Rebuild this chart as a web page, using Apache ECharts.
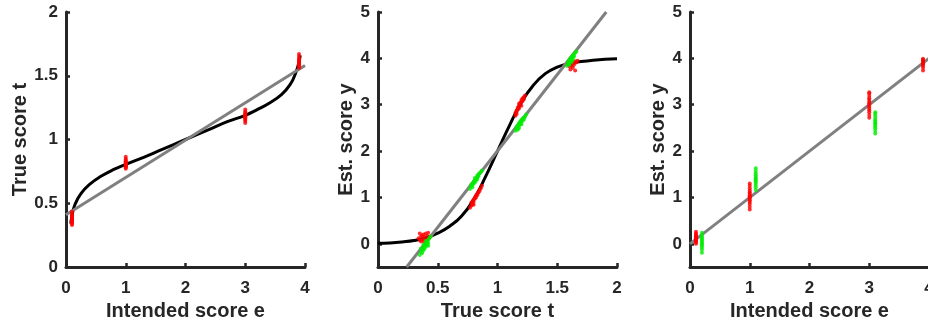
<!DOCTYPE html>
<html>
<head>
<meta charset="utf-8">
<script src="https://cdn.jsdelivr.net/npm/echarts@6/dist/echarts.min.js"></script>
<style>html,body{margin:0;padding:0;background:#fff}#c{width:928px;height:322px}</style>
</head>
<body>
<div id="c"></div>
<script>
// ---- Panel 1: Intended score e -> True score t
const p1CurveE = [0.08, 0.1, 0.15, 0.25, 0.4, 0.6, 0.8, 1.0, 1.3, 1.6, 2.0, 2.4, 2.7, 3.0, 3.2, 3.4, 3.6, 3.75, 3.85, 3.9, 3.92];
const p1CurveT = [0.34, 0.40, 0.49, 0.575, 0.65, 0.715, 0.765, 0.805, 0.86, 0.92, 1.0, 1.08, 1.14, 1.19, 1.235, 1.285, 1.35, 1.43, 1.53, 1.61, 1.66];
const p1LineE = [0, 4];
const p1LineT = [0.41, 1.58];
const p1RedE = [0.1, 1, 3, 3.9];
const p1RedT = [
  [0.33, 0.34, 0.35, 0.355, 0.36, 0.365, 0.37, 0.375, 0.38, 0.385, 0.39, 0.395, 0.40, 0.41, 0.42, 0.435],
  [0.77, 0.78, 0.785, 0.79, 0.795, 0.80, 0.805, 0.81, 0.815, 0.82, 0.825, 0.83, 0.84, 0.85, 0.865],
  [1.13, 1.145, 1.155, 1.165, 1.17, 1.175, 1.18, 1.185, 1.19, 1.195, 1.20, 1.21, 1.22, 1.235],
  [1.56, 1.57, 1.58, 1.59, 1.595, 1.60, 1.605, 1.61, 1.615, 1.62, 1.63, 1.64, 1.655, 1.67]
];
const p1XTicks = [0, 1, 2, 3, 4];
const p1YTicks = [0, 0.5, 1, 1.5, 2];

// ---- Panel 2: True score t -> Est. score y
const p2CurveT = [0, 0.1, 0.2, 0.3, 0.4, 0.5, 0.6, 0.7, 0.8, 0.9, 1.0, 1.1, 1.2, 1.3, 1.4, 1.5, 1.6, 1.7, 1.8, 1.9, 2.0];
const p2CurveY = [0.01, 0.02, 0.04, 0.07, 0.13, 0.23, 0.38, 0.6, 0.95, 1.45, 2.0, 2.55, 3.05, 3.42, 3.67, 3.81, 3.89, 3.93, 3.96, 3.98, 3.99];
const p2LineT = [0.24, 1.91];
const p2LineY = [-0.5, 5];
const p2Red = [
  [0.34,0.12],[0.35,0.08],[0.36,0.15],[0.37,0.1],[0.38,0.2],[0.38,0.06],[0.39,0.13],[0.4,0.09],[0.41,0.17],[0.42,0.24],[0.36,0.05],[0.4,0.22],[0.43,0.14],[0.37,0.18],[0.35,0.22],
  [0.77,0.78],[0.78,0.82],[0.78,0.88],[0.79,0.85],[0.79,0.92],[0.8,0.95],[0.8,0.9],[0.81,1.0],[0.81,0.97],[0.82,1.04],[0.82,1.0],[0.83,1.08],[0.83,1.05],[0.84,1.12],[0.84,1.1],[0.85,1.17],[0.85,1.14],[0.86,1.2],[0.87,1.25],[0.8,0.84],
  [1.15,2.76],[1.15,2.82],[1.16,2.85],[1.16,2.8],[1.17,2.9],[1.17,2.94],[1.18,2.97],[1.18,2.92],[1.19,3.0],[1.19,3.04],[1.2,3.06],[1.2,3.1],[1.21,3.08],[1.21,3.14],[1.22,3.16],[1.23,3.2],[1.18,3.02],[1.2,2.98],[1.16,2.88],[1.22,3.12],
  [1.59,3.9],[1.6,3.87],[1.61,3.93],[1.62,3.88],[1.62,3.84],[1.63,3.92],[1.64,3.9],[1.64,3.86],[1.65,3.94],[1.66,3.91],[1.63,3.8],[1.61,3.76],[1.65,3.74],[1.67,3.95],[1.6,3.83]
];
const p2Green = [
  [0.35,-0.24],[0.36,-0.18],[0.37,-0.12],[0.37,-0.2],[0.38,-0.08],[0.38,-0.14],[0.39,-0.03],[0.39,-0.1],[0.4,0.0],[0.4,-0.06],[0.41,0.04],[0.41,-0.02],[0.42,0.08],[0.42,0.02],[0.43,0.12],[0.44,0.16],[0.38,-0.02],[0.4,0.06],[0.36,-0.1],[0.42,-0.04],
  [0.77,1.18],[0.78,1.24],[0.79,1.27],[0.79,1.22],[0.8,1.3],[0.8,1.34],[0.81,1.37],[0.81,1.32],[0.82,1.4],[0.82,1.36],[0.83,1.43],[0.83,1.47],[0.84,1.46],[0.84,1.5],[0.85,1.52],[0.86,1.55],[0.87,1.58],[0.81,1.42],[0.83,1.39],[0.78,1.28],
  [1.15,2.44],[1.16,2.48],[1.16,2.52],[1.17,2.5],[1.17,2.56],[1.18,2.55],[1.18,2.6],[1.19,2.58],[1.19,2.64],[1.2,2.62],[1.2,2.67],[1.21,2.66],[1.21,2.7],[1.22,2.72],[1.23,2.74],[1.24,2.79],[1.18,2.5],[1.2,2.58],[1.22,2.68],[1.17,2.46],
  [1.58,3.84],[1.59,3.88],[1.59,3.92],[1.6,3.9],[1.6,3.96],[1.61,3.94],[1.61,4.0],[1.62,3.98],[1.62,4.03],[1.63,4.02],[1.63,4.06],[1.64,4.08],[1.64,4.04],[1.65,4.12],[1.66,4.15],[1.6,3.86],[1.62,3.92],[1.63,3.97]
];
const p2XTicks = [0, 0.5, 1, 1.5, 2];
const p2YTicks = [0, 1, 2, 3, 4, 5];

// ---- Panel 3: Intended score e -> Est. score y
const p3LineE = [0, 4];
const p3LineY = [0, 4];
const p3RedE = [0.1, 1, 3, 3.9];
const p3RedY = [
  [0.0, 0.03, 0.05, 0.07, 0.08, 0.1, 0.11, 0.12, 0.14, 0.15, 0.17, 0.19, 0.22, 0.26],
  [0.74, 0.8, 0.86, 0.9, 0.94, 0.97, 1.0, 1.02, 1.05, 1.08, 1.11, 1.15, 1.2, 1.25, 1.3],
  [2.72, 2.78, 2.84, 2.88, 2.92, 2.96, 3.0, 3.03, 3.06, 3.1, 3.14, 3.19, 3.24, 3.27],
  [3.74, 3.8, 3.84, 3.87, 3.89, 3.91, 3.93, 3.95, 3.97, 3.99]
];
const p3GreenE = [0.2, 1.1, 3.1];
const p3GreenY = [
  [-0.19, -0.13, -0.08, -0.04, -0.01, 0.02, 0.05, 0.08, 0.11, 0.14, 0.18, 0.24],
  [1.16, 1.22, 1.27, 1.31, 1.35, 1.38, 1.41, 1.44, 1.48, 1.52, 1.57, 1.63],
  [2.38, 2.44, 2.49, 2.53, 2.57, 2.6, 2.63, 2.66, 2.7, 2.75, 2.8, 2.84]
];
const p3XTicks = [0, 1, 2, 3, 4];
const p3YTicks = [0, 1, 2, 3, 4, 5];

const AX = '#262626';
const font = 'Liberation Sans, Arial, Helvetica, sans-serif';

function zip(xs, ys) { return xs.map((x, i) => [x, ys[i]]); }
function strips(xs, yss) { const out = []; xs.forEach((x, i) => yss[i].forEach(y => out.push([x, y]))); return out; }

function xAxis(idx, name, min, max, ticks) {
  return {
    type: 'value', gridIndex: idx, min, max, name, nameLocation: 'middle', nameGap: 33,
    nameTextStyle: { fontFamily: font, fontWeight: 'bold', fontSize: 20, color: AX },
    axisLine: { show: true, onZero: false, lineStyle: { color: AX, width: 3 } },
    axisTick: { show: true, inside: true, length: 4, customValues: ticks, lineStyle: { color: AX, width: 2.5 } },
    axisLabel: { customValues: ticks, margin: 13, fontFamily: font, fontWeight: 'bold', fontSize: 17, color: AX },
    splitLine: { show: false }
  };
}
function yAxis(idx, name, min, max, ticks, gap) {
  return {
    type: 'value', gridIndex: idx, min, max, name, nameLocation: 'middle', nameGap: gap,
    nameTextStyle: { fontFamily: font, fontWeight: 'bold', fontSize: 20, color: AX },
    axisLine: { show: true, onZero: false, lineStyle: { color: AX, width: 3 } },
    axisTick: { show: true, inside: true, length: 4, customValues: ticks, lineStyle: { color: AX, width: 2.5 } },
    axisLabel: { customValues: ticks, margin: 8, fontFamily: font, fontWeight: 'bold', fontSize: 17, color: AX },
    splitLine: { show: false }
  };
}
function curve(idx, data, color, width) {
  return { type: 'line', xAxisIndex: idx, yAxisIndex: idx, data, showSymbol: false, smooth: 0.5,
    lineStyle: { color, width }, silent: true, z: 2 };
}
function pts(idx, data, color, size) {
  return { type: 'scatter', xAxisIndex: idx, yAxisIndex: idx, data, symbol: 'circle', symbolSize: size,
    itemStyle: { color }, silent: true, z: 3 };
}

const chart = echarts.init(document.getElementById('c'), null, { renderer: 'canvas' });
chart.setOption({
  animation: false,
  backgroundColor: '#fff',
  grid: [
    { left: 66, top: 12, width: 239, height: 255, outerBoundsMode: 'none', containLabel: false },
    { left: 378, top: 12, width: 239, height: 255, outerBoundsMode: 'none', containLabel: false },
    { left: 690, top: 12, width: 239, height: 255, outerBoundsMode: 'none', containLabel: false }
  ],
  xAxis: [
    xAxis(0, 'Intended score e', 0, 4, p1XTicks),
    xAxis(1, 'True score t', 0, 2, p2XTicks),
    xAxis(2, 'Intended score e', 0, 4, p3XTicks)
  ],
  yAxis: [
    yAxis(0, 'True score t', 0, 2, p1YTicks, 34),
    yAxis(1, 'Est. score y', -0.5, 5, p2YTicks, 19),
    yAxis(2, 'Est. score y', -0.5, 5, p3YTicks, 19)
  ],
  series: [
    curve(0, zip(p1CurveE, p1CurveT), '#000000', 3),
    { ...curve(0, zip(p1LineE, p1LineT), '#808080', 3), smooth: false },
    pts(0, strips(p1RedE, p1RedT), '#ff0000', 4),

    curve(1, zip(p2CurveT, p2CurveY), '#000000', 3),
    { ...curve(1, zip(p2LineT, p2LineY), '#808080', 3), smooth: false },
    pts(1, p2Red, '#ff0000', 4),
    pts(1, p2Green, '#00ee00', 4),

    { ...curve(2, zip(p3LineE, p3LineY), '#808080', 3), smooth: false },
    pts(2, strips(p3RedE, p3RedY), '#ff0000', 4),
    pts(2, strips(p3GreenE, p3GreenY), '#00ee00', 4)
  ]
});
</script>
</body>
</html>
